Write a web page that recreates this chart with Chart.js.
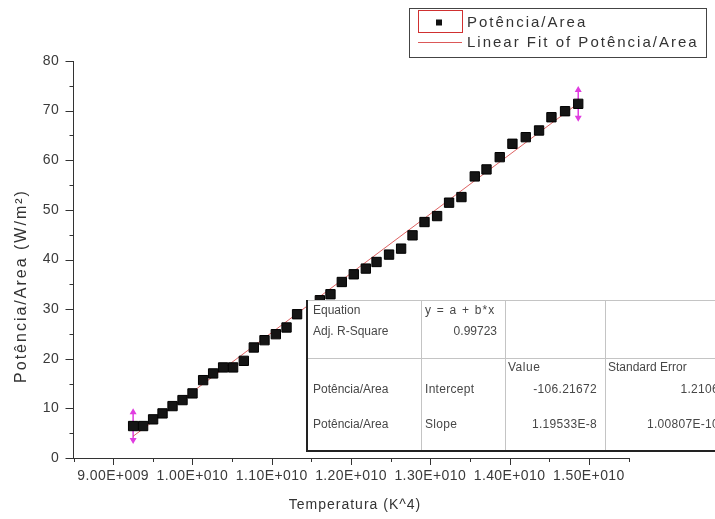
<!DOCTYPE html>
<html>
<head>
<meta charset="utf-8">
<script src="https://cdn.jsdelivr.net/npm/chart.js@4.4.1/dist/chart.umd.min.js"></script>
<style>
  html, body { margin: 0; padding: 0; background: #fff; }
  #wrap { width: 715px; height: 519px; }
</style>
</head>
<body>
<div id="wrap"><canvas id="fitChart" width="715" height="519"></canvas></div>
<script>
// measured points (Temperatura^4 vs Potência/Area)
const tempK4 = [9.252e9, 9.378e9, 9.504e9, 9.623e9, 9.749e9, 9.875e9, 10.001e9, 10.135e9, 10.261e9, 10.387e9,
    10.513e9, 10.648e9, 10.774e9, 10.909e9, 11.052e9, 11.187e9, 11.320e9, 11.607e9, 11.741e9, 11.884e9,
    12.035e9, 12.187e9, 12.322e9, 12.480e9, 12.632e9, 12.776e9, 12.927e9, 13.086e9, 13.237e9, 13.393e9,
    13.561e9, 13.709e9, 13.876e9, 14.036e9, 14.204e9, 14.372e9, 14.528e9, 14.700e9, 14.866e9];
const potArea = [6.44, 6.44, 7.79, 8.99, 10.46, 11.67, 13.02, 15.69, 17.04, 18.25,
    18.25, 19.58, 22.27, 23.74, 24.95, 26.30, 28.97, 31.79, 33.0, 35.47,
    37.02, 38.17, 39.5, 40.99, 42.19, 44.87, 47.55, 48.75, 51.45, 52.58,
    56.74, 58.15, 60.62, 63.32, 64.65, 66.0, 68.67, 69.88, 71.37];

// linear fit end points
const fitX = [9.252e9, 14.866e9];
const fitY = [4.38, 71.48];

// axis ticks
const xMajor = [9e9, 10e9, 11e9, 12e9, 13e9, 14e9, 15e9];
const xLabels = ['9.00E+009', '1.00E+010', '1.10E+010', '1.20E+010', '1.30E+010', '1.40E+010', '1.50E+010'];
const xMinor = [8.5e9, 9.5e9, 10.5e9, 11.5e9, 12.5e9, 13.5e9, 14.5e9, 15.5e9];
const yMajor = [0, 10, 20, 30, 40, 50, 60, 70, 80];
const yMinor = [5, 15, 25, 35, 45, 55, 65, 75];

// fit results table
const tableRows = [
    ['Equation', 'y = a + b*x', '', ''],
    ['Adj. R-Square', '0.99723', '', ''],
    ['', '', 'Value', 'Standard Error'],
    ['Potência/Area', 'Intercept', '-106.21672', '1.2106'],
    ['Potência/Area', 'Slope', '1.19533E-8', '1.00807E-10']
];

const FONT = '"Liberation Sans", Arial, sans-serif';
const TXT = '#333';

function txt(ctx, s, x, y, size, align, spacing, color) {
    ctx.save();
    ctx.font = size + 'px ' + FONT;
    ctx.fillStyle = color || TXT;
    ctx.textBaseline = 'middle';
    if ('letterSpacing' in ctx) ctx.letterSpacing = (spacing || 0) + 'px';
    let w = ctx.measureText(s).width;
    let x0 = x;
    if (align === 'center') x0 = x - w / 2;
    if (align === 'right') x0 = x - w;
    ctx.textAlign = 'left';
    ctx.fillText(s, x0, y);
    ctx.restore();
}

// magenta fit-range markers sit under the squares
const rangeMarks = {
    id: 'rangeMarks',
    beforeDatasetsDraw(chart) {
        const ctx = chart.ctx, xs = chart.scales.x, ys = chart.scales.y;
        [0, tempK4.length - 1].forEach(i => {
            const px = xs.getPixelForValue(tempK4[i]);
            const top = ys.getPixelForValue(potArea[i] + 3.6);
            const bot = ys.getPixelForValue(potArea[i] - 3.6);
            ctx.save();
            ctx.strokeStyle = '#e03ce0';
            ctx.fillStyle = '#e03ce0';
            ctx.lineWidth = 1.5;
            ctx.beginPath();
            ctx.moveTo(px, top + 4);
            ctx.lineTo(px, bot - 4);
            ctx.stroke();
            ctx.beginPath();
            ctx.moveTo(px, top); ctx.lineTo(px - 3.5, top + 6); ctx.lineTo(px + 3.5, top + 6); ctx.closePath();
            ctx.moveTo(px, bot); ctx.lineTo(px - 3.5, bot - 6); ctx.lineTo(px + 3.5, bot - 6); ctx.closePath();
            ctx.fill();
            ctx.restore();
        });
    }
};

// ticks, labels, legend and fit table
const decor = {
    id: 'decor',
    afterDraw(chart) {
        const ctx = chart.ctx, xs = chart.scales.x, ys = chart.scales.y;
        const area = chart.chartArea;
        ctx.save();
        ctx.strokeStyle = '#333';
        ctx.lineWidth = 1;
        ctx.beginPath();
        xMajor.forEach(v => { const p = Math.round(xs.getPixelForValue(v)) + 0.5; ctx.moveTo(p, area.bottom); ctx.lineTo(p, area.bottom + 7); });
        xMinor.forEach(v => { const p = Math.round(xs.getPixelForValue(v)) + 0.5; ctx.moveTo(p, area.bottom); ctx.lineTo(p, area.bottom + 4); });
        yMajor.forEach(v => { const p = Math.round(ys.getPixelForValue(v)) + 0.5; ctx.moveTo(area.left, p); ctx.lineTo(area.left - 8, p); });
        yMinor.forEach(v => { const p = Math.round(ys.getPixelForValue(v)) + 0.5; ctx.moveTo(area.left, p); ctx.lineTo(area.left - 4, p); });
        ctx.stroke();
        ctx.restore();

        xMajor.forEach((v, i) => txt(ctx, xLabels[i], xs.getPixelForValue(v), 476, 14, 'center', 0.4, '#3a3a3a'));
        yMajor.forEach(v => txt(ctx, String(v), 59, ys.getPixelForValue(v), 14, 'right', 0.3, '#3a3a3a'));

        txt(ctx, 'Temperatura (K^4)', (area.left + area.right) / 2 + 4, 505, 14, 'center', 1);
        ctx.save();
        ctx.translate(22, 286);
        ctx.rotate(-Math.PI / 2);
        txt(ctx, 'Potência/Area (W/m²)', 0, 0, 16, 'center', 2);
        ctx.restore();

        // legend
        ctx.save();
        ctx.strokeStyle = '#444';
        ctx.lineWidth = 1;
        ctx.strokeRect(409.5, 8.5, 297, 49);
        ctx.strokeStyle = '#d03030';
        ctx.strokeRect(418.5, 10.5, 44, 22);
        ctx.fillStyle = '#111';
        ctx.fillRect(436, 19.5, 6, 6);
        ctx.strokeStyle = 'rgba(215,70,70,0.9)';
        ctx.beginPath();
        ctx.moveTo(418, 42.5); ctx.lineTo(462, 42.5);
        ctx.stroke();
        ctx.restore();
        txt(ctx, 'Potência/Area', 467, 22.5, 15, 'left', 2);
        txt(ctx, 'Linear Fit of Potência/Area', 467, 43, 15, 'left', 2);

        // fit table
        const tl = 306, tt = 300, tb = 451, tr = 730;
        const rowY = [310.5, 331.5, 368, 390, 425];
        ctx.save();
        ctx.fillStyle = '#fff';
        ctx.fillRect(tl, tt, tr - tl, tb - tt);
        ctx.strokeStyle = '#c4c4c4';
        ctx.lineWidth = 1;
        ctx.beginPath();
        ctx.moveTo(tl, tt + 0.5); ctx.lineTo(tr, tt + 0.5);
        ctx.moveTo(tl, 358.5); ctx.lineTo(tr, 358.5);
        [421, 505, 605].forEach(c => { ctx.moveTo(c + 0.5, tt); ctx.lineTo(c + 0.5, tb); });
        ctx.stroke();
        ctx.strokeStyle = '#222';
        ctx.lineWidth = 2;
        ctx.beginPath();
        ctx.moveTo(tl + 1, tt); ctx.lineTo(tl + 1, tb); ctx.lineTo(tr, tb);
        ctx.stroke();
        ctx.restore();

        const tc = '#474747';
        tableRows.forEach((r, ri) => {
            const y = rowY[ri];
            if (r[0]) txt(ctx, r[0], 313, y, 12, 'left', 0, tc);
            if (r[1]) {
                if (ri === 1) txt(ctx, r[1], 497, y, 12, 'right', 0, tc);
                else txt(ctx, r[1], 425, y, 12, 'left', ri === 0 ? 1.2 : 0.3, tc);
            }
            if (r[2]) {
                if (ri === 2) txt(ctx, r[2], 508, y, 12, 'left', 0.5, tc);
                else txt(ctx, r[2], 597, y, 12, 'right', 0.3, tc);
            }
            if (r[3]) {
                if (ri === 2) txt(ctx, r[3], 608, y, 12, 'left', 0, tc);
                else txt(ctx, r[3], 719, y, 12, 'right', 0.3, tc);
            }
        });
    }
};

const ctx = document.getElementById('fitChart').getContext('2d');
new Chart(ctx, {
    type: 'scatter',
    data: {
        datasets: [{
            label: 'Potência/Area',
            data: tempK4.map((x, i) => ({ x: x, y: potArea[i] })),
            pointStyle: 'rect',
            pointRadius: 6.6,
            pointHoverRadius: 6.6,
            backgroundColor: '#151515',
            borderColor: '#000',
            borderWidth: 1,
            order: 0
        }, {
            label: 'Linear Fit of Potência/Area',
            data: fitX.map((x, i) => ({ x: x, y: fitY[i] })),
            showLine: true,
            pointRadius: 0,
            borderColor: 'rgba(215,70,70,0.85)',
            borderWidth: 1,
            order: 1
        }]
    },
    options: {
        responsive: false,
        animation: false,
        layout: { padding: { top: 61, right: 86.5, bottom: 0, left: 0 } },
        plugins: { legend: { display: false }, tooltip: { enabled: false } },
        scales: {
            x: {
                type: 'linear',
                min: 8.5e9,
                max: 1.55e10,
                grid: { display: false },
                border: { display: true, color: '#333', width: 1 },
                ticks: { display: false },
                afterFit: s => { s.height = 61; }
            },
            y: {
                min: 0,
                max: 80,
                grid: { display: false },
                border: { display: true, color: '#333', width: 1 },
                ticks: { display: false },
                afterFit: s => { s.width = 73.5; }
            }
        }
    },
    plugins: [rangeMarks, decor]
});
</script>
</body>
</html>
